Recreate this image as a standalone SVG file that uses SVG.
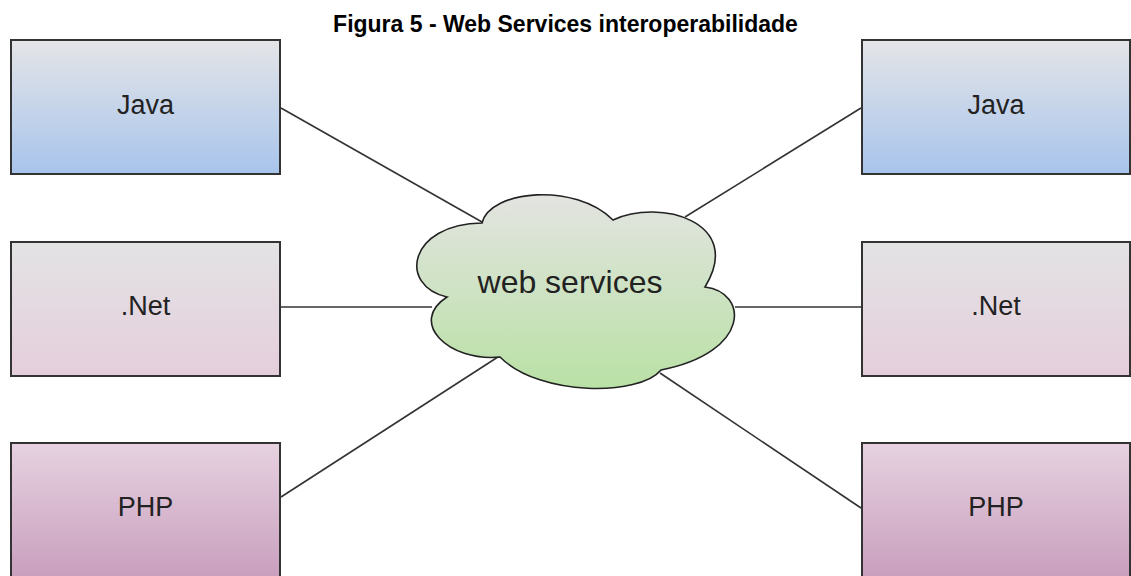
<svg xmlns="http://www.w3.org/2000/svg" width="1131" height="576" viewBox="0 0 1131 576">
<defs>
<linearGradient id="gJava" x1="0" y1="0" x2="0" y2="1"><stop offset="0" stop-color="#e4e5e7"/><stop offset="1" stop-color="#a8c4ec"/></linearGradient>
<linearGradient id="gNet" x1="0" y1="0" x2="0" y2="1"><stop offset="0" stop-color="#e3e3e4"/><stop offset="1" stop-color="#e5cedc"/></linearGradient>
<linearGradient id="gPhp" x1="0" y1="0" x2="0" y2="1"><stop offset="0" stop-color="#e6d2e0"/><stop offset="1" stop-color="#c99fbe"/></linearGradient>
<linearGradient id="gCloud" x1="0" y1="0" x2="0" y2="1"><stop offset="0" stop-color="#e3e4e1"/><stop offset="1" stop-color="#b9e1a5"/></linearGradient>
</defs>
<style>
.box{stroke:#333;stroke-width:2}
.lbl{font-family:"Liberation Sans",Arial,sans-serif;font-size:27px;fill:#222;text-anchor:middle}
.conn line{stroke:#333;stroke-width:1.6}
.title{font-family:"Liberation Sans",Arial,sans-serif;font-size:23px;font-weight:bold;fill:#000;text-anchor:middle}
</style>
<text class="title" x="565.5" y="32">Figura 5 - Web Services interoperabilidade</text>
<g id="connectors" class="conn">
<line x1="281" y1="108" x2="482" y2="222"/>
<line x1="861" y1="108" x2="685" y2="217"/>
<line x1="281" y1="307" x2="432" y2="307"/>
<line x1="735" y1="307" x2="861" y2="307"/>
<line x1="281" y1="497" x2="501" y2="355"/>
<line x1="660" y1="373" x2="861" y2="508"/>
</g>
<g id="java-left"><rect class="box" x="11" y="40" width="269" height="134" fill="url(#gJava)"/><text class="lbl" x="145.5" y="114">Java</text></g>
<g id="net-left"><rect class="box" x="11" y="242" width="269" height="134" fill="url(#gNet)"/><text class="lbl" x="145.5" y="315">.Net</text></g>
<g id="php-left"><rect class="box" x="11" y="443" width="269" height="134" fill="url(#gPhp)"/><text class="lbl" x="145.5" y="516">PHP</text></g>
<g id="java-right"><rect class="box" x="862" y="40" width="268" height="134" fill="url(#gJava)"/><text class="lbl" x="996" y="114">Java</text></g>
<g id="net-right"><rect class="box" x="862" y="242" width="268" height="134" fill="url(#gNet)"/><text class="lbl" x="996" y="315">.Net</text></g>
<g id="php-right"><rect class="box" x="862" y="443" width="268" height="134" fill="url(#gPhp)"/><text class="lbl" x="996" y="516">PHP</text></g>
<g id="cloud">
<path d="M482,223 C490,190 575,182 613,220 C660,198 745,222 705,287 C748,292 752,352 661,370 C640,396 540,397 500,357 C448,362 408,322 447,297 C398,286 408,224 482,223 Z" fill="url(#gCloud)" stroke="#222" stroke-width="1.6" stroke-linejoin="miter"/>
<text x="570" y="293" font-family="'Liberation Sans',Arial,sans-serif" font-size="32" fill="#222" text-anchor="middle">web services</text>
</g>
</svg>
